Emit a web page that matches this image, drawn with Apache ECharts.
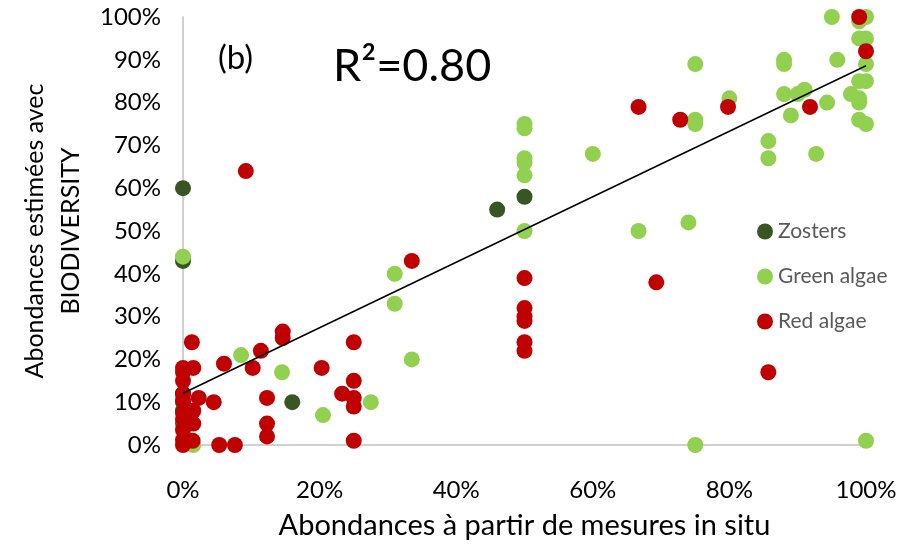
<!DOCTYPE html>
<html>
<head>
<meta charset="utf-8">
<script src="https://cdn.jsdelivr.net/npm/echarts@6/dist/echarts.min.js"></script>
<style>
html,body{margin:0;padding:0;background:#fff;}
#chart{width:907px;height:546px;}
</style>
</head>
<body>
<div id="chart"></div>
<script>
// ---- Data (in situ %, BIODIVERSITY %) ----
const seriesNames = ['Zosters', 'Green algae', 'Red algae'];
const xTicks = [0, 20, 40, 60, 80, 100];
const yTicks = [0, 10, 20, 30, 40, 50, 60, 70, 80, 90, 100];

const zostersX = [0, 0, 0, 0, 0, 0, 16, 46, 50];
const zostersY = [60, 43, 12, 10, 8, 5, 10, 55, 58];

const greenX = [0, 0, 1.5, 8.5, 14.5, 20.5, 27.5, 31, 31, 33.5,
  50, 50, 50, 50, 50, 50, 60, 66.7, 74, 75, 75, 75, 75, 80, 85.7, 85.7,
  88, 88, 88, 89, 90, 91, 92.7, 94.3, 95, 95.8, 97.8, 99, 100, 99, 100,
  100, 99, 100, 99, 99, 99, 100, 100];
const greenY = [44, 6, 0, 21, 17, 7, 10, 40, 33, 20,
  75, 74, 67, 66, 63, 50, 68, 50, 52, 89, 76, 75, 0, 81, 71, 67,
  90, 89, 82, 77, 82, 83, 68, 80, 100, 90, 82, 99, 100, 95, 95,
  89, 85, 85, 81, 80, 76, 75, 1];

const redX = [0, 1.5, 0, 0, 0, 0, 2.3, 4.5, 1.5, 0, 0, 1.5, 0, 0, 1.4, 0,
  1.3, 5.3, 7.6, 6, 10.2, 11.4, 12.3, 12.3, 12.3, 14.6, 14.6, 9.2,
  20.3, 23.3, 25, 25, 25, 25, 25, 33.5, 50, 50, 50, 50, 50, 50,
  66.7, 69.3, 72.8, 79.8, 85.7, 91.8, 99, 100];
const redY = [18, 18, 17, 15, 12, 10.5, 11, 10, 8, 7.5, 6, 5, 3.5, 1.2, 1, 0,
  24, 0, 0, 19, 18, 22, 11, 5, 2, 26.5, 25, 64,
  18, 12, 11, 15, 9, 24, 1, 43, 39, 32, 30, 29, 24, 22,
  79, 38, 76, 79, 17, 79, 100, 92];

const trendX = [0, 100];
const trendY = [12.1, 88.6];

const colors = ['#375623', '#92D050', '#C00000'];

function zip(a, b) { return a.map((v, i) => [v, b[i]]); }

const FONT = 'Lato, "Open Sans", sans-serif';

const chart = echarts.init(document.getElementById('chart'), null, {renderer: 'canvas'});
chart.setOption({
  animation: false,
  backgroundColor: '#ffffff',
  grid: {left: 183, right: 41, top: 17, bottom: 101, containLabel: false},
  xAxis: {
    type: 'value', min: xTicks[0], max: xTicks[xTicks.length - 1], interval: 20,
    axisLine: {show: true, lineStyle: {color: '#d0d0d0', width: 2}},
    axisTick: {show: false},
    splitLine: {show: false},
    axisLabel: {formatter: '{value}%', color: '#000', fontSize: 24, fontFamily: FONT, margin: 33},
    name: 'Abondances à partir de mesures in situ',
    nameLocation: 'middle', nameGap: 66,
    nameTextStyle: {color: '#000', fontSize: 29, fontFamily: FONT}
  },
  yAxis: {
    type: 'value', min: yTicks[0], max: yTicks[yTicks.length - 1], interval: 10,
    axisLine: {show: true, lineStyle: {color: '#d0d0d0', width: 2}},
    axisTick: {show: false},
    splitLine: {show: false},
    axisLabel: {formatter: '{value}%', color: '#000', fontSize: 24, fontFamily: FONT, margin: 22},
    name: 'Abondances estimées avec\nBIODIVERSITY',
    nameLocation: 'middle', nameGap: 93, nameRotate: 90,
    nameTextStyle: {color: '#000', fontSize: 25, fontFamily: FONT, lineHeight: 36}
  },
  legend: {
    data: seriesNames.map(n => ({name: n, icon: 'circle'})),
    orient: 'vertical', left: 752, top: 216,
    itemWidth: 16, itemHeight: 16, itemGap: 24,
    textStyle: {color: '#595959', fontSize: 21, fontFamily: FONT}
  },
  graphic: [
    {type: 'text', left: 218, top: 42, style: {text: '(b)', font: '33px ' + FONT, fill: '#000'}},
    {type: 'text', left: 333, top: 44, style: {text: 'R²=0.80', font: '45px ' + FONT, fill: '#000'}}
  ],
  series: [
    {name: seriesNames[0], type: 'scatter', symbolSize: 16, itemStyle: {color: colors[0], opacity: 1}, data: zip(zostersX, zostersY), z: 2},
    {name: seriesNames[1], type: 'scatter', symbolSize: 16, itemStyle: {color: colors[1], opacity: 1}, data: zip(greenX, greenY), z: 3},
    {name: seriesNames[2], type: 'scatter', symbolSize: 16, itemStyle: {color: colors[2], opacity: 1}, data: zip(redX, redY), z: 4},
    {name: 'trend', type: 'line', symbol: 'none', lineStyle: {color: '#000', width: 1.5}, data: zip(trendX, trendY), z: 5, silent: true}
  ]
});
</script>
</body>
</html>
